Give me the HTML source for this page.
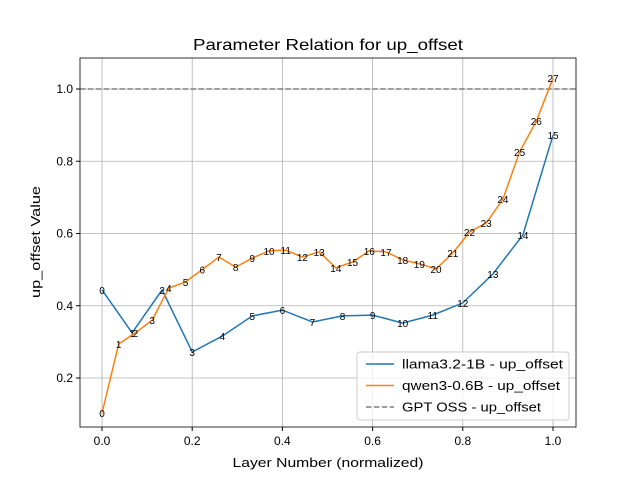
<!DOCTYPE html>
<html><head><meta charset="utf-8"><style>body{margin:0;background:#fff}svg{font-family:"Liberation Sans","DejaVu Sans",sans-serif}</style></head>
<body>
<svg id="c" width="640" height="480" xmlns="http://www.w3.org/2000/svg"></svg>
<script>
const llamaValues=[0.444,0.325,0.444,0.272,0.316,0.372,0.388,0.355,0.372,0.374,0.352,0.374,0.408,0.488,0.596,0.872];
const qwenValues=[0.103,0.294,0.325,0.36,0.449,0.466,0.5,0.535,0.507,0.532,0.552,0.554,0.535,0.549,0.505,0.521,0.552,0.549,0.527,0.516,0.502,0.546,0.604,0.629,0.695,0.826,0.911,1.03];
const gptValue=1.0;
const xTicks=[0.0,0.2,0.4,0.6,0.8,1.0];
const yTicks=[0.2,0.4,0.6,0.8,1.0];
const L=80,R=576,T=58,B=427;
const xs=v=>102+v*451, ys=v=>450.25-v*361.25;
const svg=document.getElementById('c');const NS='http://www.w3.org/2000/svg';
function mk(t,a,p){const e=document.createElementNS(NS,t);for(const k in a)e.setAttribute(k,a[k]);(p||svg).appendChild(e);return e;}
let e;
e=mk('text',{x:328,y:50,'font-size':16,'text-anchor':'middle',textLength:270,lengthAdjust:'spacingAndGlyphs'});e.textContent='Parameter Relation for up_offset';


xTicks.forEach(t=>{const x=xs(t);
 e=mk('line',{x1:x,x2:x,y1:T,y2:B,stroke:'#b0b0b0','stroke-width':0.8});
 
 
 mk('line',{x1:x,x2:x,y1:B,y2:B+4,stroke:'#000'});
 e=mk('text',{x:x,y:B+18,'font-size':12,'text-anchor':'middle'});e.textContent=t.toFixed(1);
 
 });
yTicks.forEach(t=>{const y=ys(t);
 e=mk('line',{x1:L,x2:R,y1:y,y2:y,stroke:'#b0b0b0','stroke-width':0.8});
 
 
 mk('line',{x1:L-4,x2:L,y1:y,y2:y,stroke:'#000'});
 e=mk('text',{x:L-7,y:y+4,'font-size':12,'text-anchor':'end'});e.textContent=t.toFixed(1);
 
 });
e=mk('line',{x1:L,x2:R,y1:ys(gptValue),y2:ys(gptValue),stroke:'#7f7f7f','stroke-width':1.5,'stroke-dasharray':'5.5,2.4'});


function series(vals,color,name){
 const n=vals.length-1;
 const pts=vals.map((v,i)=>xs(i/n).toFixed(1)+','+ys(v).toFixed(1)).join(' ');
 e=mk('polyline',{points:pts,fill:'none',stroke:color,'stroke-width':1.5});
 
 
 vals.forEach((v,i)=>{e=mk('text',{x:xs(i/n),y:ys(v)+4,'font-size':10,'text-anchor':'middle'});e.textContent=i;
  
  });
}
series(llamaValues,'#1f77b4','llama');
series(qwenValues,'#ff7f0e','qwen');
e=mk('rect',{x:L,y:T,width:R-L,height:B-T,fill:'none',stroke:'#000','stroke-width':0.8});


e=mk('text',{x:328,y:467,'font-size':13,'text-anchor':'middle',textLength:191,lengthAdjust:'spacingAndGlyphs'});e.textContent='Layer Number (normalized)';


e=mk('text',{x:40,y:242,'font-size':13,'text-anchor':'middle',transform:'rotate(-90 40 242)',textLength:112,lengthAdjust:'spacingAndGlyphs'});e.textContent='up_offset Value';


const g=mk('g',{});


mk('rect',{x:357,y:352,width:212,height:68,rx:3,fill:'#fff','fill-opacity':0.8,stroke:'#ccc'},g);
[['llama3.2-1B - up_offset','#1f77b4','',161],['qwen3-0.6B - up_offset','#ff7f0e','',158],['GPT OSS - up_offset','#7f7f7f','5.5,2.4',139]].forEach((d,i)=>{
 const y=364+i*21.5;
 const a={x1:366,x2:394,y1:y,y2:y,stroke:d[1],'stroke-width':1.5};if(d[2])a['stroke-dasharray']=d[2];
 mk('line',a,g);
 e=mk('text',{x:402,y:y+4.5,'font-size':13,textLength:d[3],lengthAdjust:'spacingAndGlyphs'},g);e.textContent=d[0];
 
 
});
</script>
</body></html>
